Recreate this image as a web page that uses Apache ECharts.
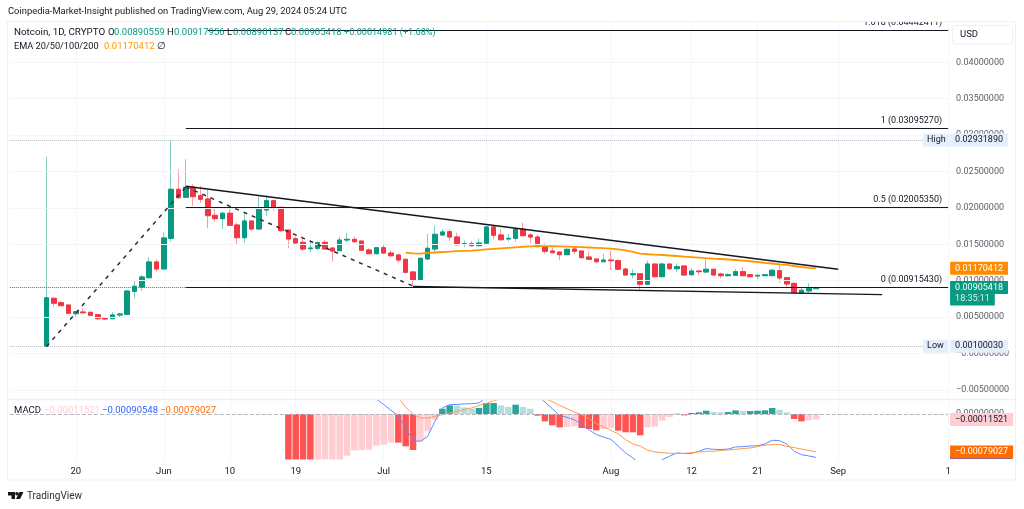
<!DOCTYPE html>
<html>
<head>
<meta charset="utf-8">
<title>Notcoin 1D</title>
<script src="https://cdn.jsdelivr.net/npm/echarts@6/dist/echarts.min.js"></script>
<style>
  html, body { margin: 0; padding: 0; background: #fff; }
  #chart { width: 1024px; height: 509px; }
</style>
</head>
<body>
<div id="chart"></div>
<script>
// candles start on May 16, five empty days before that
const leadDays = 5;
const totalDays = 129;

const priceOpen = [
  0.00100, 0.00758, 0.00698, 0.00666, 0.00547, 0.00570, 0.00566, 0.00533, 0.00488, 0.00478,
  0.00529, 0.00538, 0.00854, 0.00913, 0.01041, 0.01257, 0.01161, 0.01582, 0.02255, 0.02146,
  0.02283, 0.02168, 0.02122, 0.01898, 0.01852, 0.01926, 0.01765, 0.01591, 0.01820, 0.01710,
  0.01971, 0.02099, 0.02008, 0.01696, 0.01577, 0.01527, 0.01440, 0.01445, 0.01527, 0.01449,
  0.01412, 0.01559, 0.01568, 0.01545, 0.01422, 0.01371, 0.01453, 0.01380, 0.01353, 0.01294,
  0.01120, 0.01010, 0.01298, 0.01435, 0.01628, 0.01673, 0.01600, 0.01500, 0.01508, 0.01481,
  0.01514, 0.01738, 0.01628, 0.01573, 0.01582, 0.01706, 0.01628, 0.01600, 0.01467, 0.01408,
  0.01394, 0.01357, 0.01435, 0.01408, 0.01325, 0.01298, 0.01261, 0.01284, 0.01275, 0.01160,
  0.01082, 0.01096, 0.00951, 0.01229, 0.01055, 0.01229, 0.01165, 0.01202, 0.01082, 0.01133,
  0.01120, 0.01157, 0.01092, 0.01069, 0.01074, 0.01124, 0.01082, 0.01065, 0.01069, 0.01069,
  0.01137, 0.01041, 0.00964, 0.00835, 0.00859, 0.00890559
];
const priceClose = [
  0.00766, 0.00690, 0.00657, 0.00552, 0.00574, 0.00560, 0.00525, 0.00478, 0.00474, 0.00529,
  0.00543, 0.00858, 0.00923, 0.01051, 0.01257, 0.01161, 0.01587, 0.02255, 0.02140, 0.02283,
  0.02154, 0.02118, 0.01893, 0.01852, 0.01926, 0.01761, 0.01591, 0.01820, 0.01710, 0.01981,
  0.02099, 0.02008, 0.01687, 0.01573, 0.01518, 0.01435, 0.01449, 0.01522, 0.01435, 0.01408,
  0.01559, 0.01568, 0.01536, 0.01418, 0.01371, 0.01453, 0.01380, 0.01343, 0.01284, 0.01115,
  0.01010, 0.01308, 0.01445, 0.01637, 0.01669, 0.01600, 0.01494, 0.01508, 0.01481, 0.01518,
  0.01738, 0.01624, 0.01563, 0.01582, 0.01710, 0.01618, 0.01600, 0.01467, 0.01404, 0.01385,
  0.01357, 0.01431, 0.01404, 0.01316, 0.01294, 0.01261, 0.01284, 0.01275, 0.01157, 0.01078,
  0.01096, 0.00951, 0.01229, 0.01055, 0.01229, 0.01165, 0.01192, 0.01078, 0.01133, 0.01124,
  0.01157, 0.01078, 0.01069, 0.01082, 0.01124, 0.01069, 0.01055, 0.01074, 0.01082, 0.01143,
  0.01037, 0.00955, 0.00835, 0.00868, 0.00896, 0.00905418
];
const priceLow = [
  0.0010003, 0.00635, 0.00657, 0.00543, 0.00505, 0.00543, 0.00520, 0.00456, 0.00460, 0.00470,
  0.00497, 0.00533, 0.00758, 0.00863, 0.01033, 0.01129, 0.01161, 0.01536, 0.02122, 0.02140,
  0.02026, 0.02071, 0.01720, 0.01810, 0.01710, 0.01761, 0.01490, 0.01522, 0.01687, 0.01700,
  0.01889, 0.01962, 0.01665, 0.01445, 0.01504, 0.01408, 0.01385, 0.01412, 0.01430, 0.01261,
  0.01408, 0.01527, 0.01522, 0.01410, 0.01371, 0.01360, 0.01370, 0.01321, 0.01247, 0.01102,
  0.00927, 0.01000, 0.01290, 0.01376, 0.01614, 0.01541, 0.01490, 0.01459, 0.01467, 0.01470,
  0.01510, 0.01569, 0.01549, 0.01536, 0.01536, 0.01610, 0.01522, 0.01460, 0.01376, 0.01376,
  0.01284, 0.01350, 0.01367, 0.01310, 0.01290, 0.01239, 0.01253, 0.01147, 0.01150, 0.01070,
  0.01033, 0.00872, 0.00950, 0.01050, 0.01045, 0.01147, 0.01115, 0.01070, 0.01075, 0.01078,
  0.01102, 0.01070, 0.01033, 0.01055, 0.01070, 0.01060, 0.01045, 0.01023, 0.01070, 0.01060,
  0.00972, 0.00896, 0.00830, 0.00827, 0.00841, 0.00890137
];
const priceHigh = [
  0.02703, 0.00772, 0.00721, 0.00666, 0.00578, 0.00621, 0.00570, 0.00533, 0.00497, 0.00570,
  0.00556, 0.00872, 0.00996, 0.01078, 0.01326, 0.01294, 0.01665, 0.0293189, 0.02530, 0.02668,
  0.02324, 0.02300, 0.02246, 0.02008, 0.01948, 0.01981, 0.01797, 0.01926, 0.01820, 0.02154,
  0.02177, 0.02110, 0.02008, 0.01700, 0.01604, 0.01604, 0.01559, 0.01545, 0.01559, 0.01455,
  0.01604, 0.01659, 0.01604, 0.01545, 0.01445, 0.01460, 0.01504, 0.01422, 0.01360, 0.01294,
  0.01125, 0.01315, 0.01641, 0.01755, 0.01710, 0.01710, 0.01659, 0.01549, 0.01549, 0.01577,
  0.01750, 0.01765, 0.01706, 0.01641, 0.01720, 0.01797, 0.01651, 0.01628, 0.01514, 0.01453,
  0.01398, 0.01445, 0.01467, 0.01408, 0.01398, 0.01300, 0.01367, 0.01412, 0.01294, 0.01179,
  0.01157, 0.01100, 0.01275, 0.01240, 0.01247, 0.01230, 0.01239, 0.01210, 0.01170, 0.01133,
  0.01294, 0.01160, 0.01110, 0.01102, 0.01160, 0.01184, 0.01092, 0.01074, 0.01090, 0.01157,
  0.01239, 0.01045, 0.00970, 0.00918, 0.00964, 0.00917956
];

// EMA 20 starts on candle 49
const emaStart = 49;
const emaLine = [
  0.01385, 0.01375, 0.01371, 0.01382, 0.01387, 0.01394, 0.01399, 0.01405, 0.01409, 0.01413,
  0.01420, 0.01430, 0.01438, 0.01445, 0.01452, 0.01459, 0.01466, 0.01471, 0.01474, 0.01474,
  0.01473, 0.01471, 0.01468, 0.01464, 0.01460, 0.01456, 0.01452, 0.01446, 0.01441, 0.01431,
  0.01415, 0.01397, 0.01372, 0.01363, 0.01357, 0.01353, 0.01346, 0.01339, 0.01331, 0.01324,
  0.01317, 0.01309, 0.01302, 0.01298, 0.01291, 0.01284, 0.01276, 0.01267, 0.01257, 0.01246,
  0.01236, 0.01225, 0.01216, 0.01202, 0.01188, 0.01177, 0.01170412
];

// MACD histogram starts on candle 33
const histStart = 33;
const macdHist = [
  -0.00105, -0.00110, -0.00115, -0.00120, -0.00115, -0.00105, -0.00100, -0.00097,
  -0.000868, -0.000763, -0.000750, -0.000743, -0.000659, -0.000638, -0.000597, -0.000597,
  -0.000673, -0.000750, -0.000569, -0.000361, -0.000118, 0.000111, 0.000180, 0.000174,
  0.000139, 0.000111, 0.000125, 0.000229, 0.000229, 0.000180, 0.000146, 0.000194,
  0.000146, 0.000111, -0.000035, -0.000153, -0.000236, -0.000278, -0.000271, -0.000257,
  -0.000291, -0.000312, -0.000340, -0.000312, -0.000291, -0.000347, -0.000382, -0.000382,
  -0.000444, -0.000278, -0.000264, -0.000139, -0.000062, 0.000007, -0.000028, 0.000021,
  0.000035, 0.000069, 0.000042, 0.000035, 0.000042, 0.000076, 0.000062, 0.000062,
  0.000069, 0.000076, 0.000125, 0.000090, 0.000035, -0.000104, -0.000153, -0.000132,
  -0.00011521
];

// MACD lines start on candle 43, they leave the pane at the top and bottom
const macdStart = 43;
const macdBlue = [
  0.00060, 0.00045, 0.00031, 0.00020, 0.000076, -0.000035, -0.00029, -0.000555, -0.00057, -0.000465,
  -0.00015, 0.000125, 0.000194, 0.00020, 0.00021, 0.000215, 0.00023, 0.00035, 0.00045, 0.00055,
  0.00062, 0.00068, 0.00060, 0.00048, 0.00037, 0.00025, 0.00011, -0.000028, -0.00007, -0.000118,
  -0.00022, -0.000326, -0.00043, -0.00048, -0.00053, -0.00067, -0.00081, -0.000916, -0.00105, -0.00112,
  -0.00110, -0.00095, -0.00088, -0.00081, -0.000826, -0.00082, -0.000777, -0.00072, -0.000736, -0.00074,
  -0.00073, -0.000687, -0.00068, -0.000666, -0.00066, -0.000625, -0.000548, -0.000555, -0.000625, -0.000777,
  -0.000847, -0.000874, -0.00090548
];
const macdOrange = [
  0.00085, 0.00075, 0.00065, 0.00055, 0.00045, 0.000347, 0.000139, 0, -0.000083, -0.000083,
  -0.000049, -0.000014, 0.00002, 0.000056, 0.000097, 0.000125, 0.00018, 0.00022, 0.000278, 0.00032,
  0.00038, 0.00042, 0.00041, 0.00037, 0.00033, 0.000326, 0.000257, 0.00018, 0.00011, 0.000042,
  -0.000014, -0.000097, -0.00020, -0.00027, -0.00034, -0.000416, -0.00053, -0.000625, -0.00067, -0.000756,
  -0.00079, -0.000805, -0.00082, -0.00082, -0.00082, -0.000805, -0.00079, -0.000777, -0.000777, -0.00076,
  -0.00075, -0.000736, -0.00072, -0.000708, -0.00068, -0.00065, -0.000638, -0.000638, -0.000673, -0.00070,
  -0.00073, -0.00076, -0.00079027
];

const priceTicks = [-0.005, 0, 0.005, 0.01, 0.015, 0.02, 0.025, 0.03, 0.035, 0.04];
const highValue = 0.0293189;
const lowValue = 0.0010003;
const lastClose = 0.00905418;
const lastEma = 0.01170412;
const countdownLevel = 0.0075;
const fibLevels = [
  { name: '1.618', value: 0.04442411, from: 22 },
  { name: '1', value: 0.0309527, from: 19 },
  { name: '0.5', value: 0.0200535, from: 19 },
  { name: '0', value: 0.0091543, from: 19 }
];
const upperTrend = [[19, 0.02297], [108, 0.01157]];
const lowerTrend = [[50, 0.0092], [114, 0.0081]];
const zigzag = [[0, 0.00095], [19, 0.02287], [50, 0.00927]];
const tickLabels = {
  '05-20': '20', '06-01': 'Jun', '06-10': '10', '06-19': '19', '07-01': 'Jul',
  '07-15': '15', '08-01': 'Aug', '08-12': '12', '08-21': '21', '09-01': 'Sep', '09-16': '1'
};

const days = [];
for (let i = 0; i < totalDays; i++) {
  const d = new Date(Date.UTC(2024, 4, 11 + i));
  days.push(String(d.getUTCMonth() + 1).padStart(2, '0') + '-' + String(d.getUTCDate()).padStart(2, '0'));
}
const dayOf = i => days[i + leadDays];
function pad(arr, start) {
  const out = new Array(leadDays + start).fill(null).concat(arr);
  while (out.length < totalDays) out.push(null);
  return out;
}

const UP = '#089981', DOWN = '#f23645';
const FONT = 'Roboto';
const NO_LINE = { color: 'rgba(0,0,0,0)', width: 0 };

const wickData = pad(priceOpen.map((o, i) => [o, priceClose[i], priceLow[i], priceHigh[i]]), 0).map(v => v || '-');
const bodyData = pad(priceOpen.map((o, i) => {
  const c = priceClose[i];
  return [o, c, Math.min(o, c), Math.max(o, c)];
}), 0).map(v => v || '-');

const histData = pad(macdHist, histStart).map((v, i, all) => {
  if (v === null) return '-';
  const prev = all[i - 1];
  let color;
  if (v >= 0) color = prev === null || v >= prev ? '#26a69a' : '#b2dfdb';
  else color = prev === null || v <= prev ? '#ff5252' : '#ffcdd2';
  return { value: v, itemStyle: { color } };
});

function segment(points, style) {
  const out = [];
  for (let i = 0; i < points.length - 1; i++) {
    out.push([
      { coord: [dayOf(points[i][0]), points[i][1]], lineStyle: style, label: { show: false } },
      { coord: [dayOf(points[i + 1][0]), points[i + 1][1]] }
    ]);
  }
  return out;
}

// full width level line, as a pair so it stays on the value
function level(value, line, label) {
  return [
    { coord: [days[0], value], lineStyle: line, label: label || { show: false } },
    { coord: [days[totalDays - 1], value] }
  ];
}
// a tag sitting on the axis, right of the plot
function tag(value, text, bg, color, line) {
  return level(value, line || NO_LINE, {
    show: true, position: 'end', distance: 2, formatter: text, color, backgroundColor: bg,
    fontFamily: FONT, fontSize: 9, lineHeight: 9, padding: [2, 5]
  });
}
function chip(value, text) {
  return level(value, NO_LINE, {
    show: true, position: 'end', distance: -25, formatter: text, color: '#131722',
    backgroundColor: '#e3effd', fontFamily: FONT, fontSize: 9, lineHeight: 9, padding: [2, 4]
  });
}

const fibStyle = { color: '#131722', width: 1.2, type: 'solid' };
const fibLines = fibLevels.map(f => [
  {
    coord: [dayOf(f.from), f.value],
    lineStyle: fibStyle,
    label: {
      show: true, position: 'insideEndTop', distance: [6, 3],
      formatter: f.name + ' (' + f.value.toFixed(8) + ')',
      color: '#131722', fontFamily: FONT, fontSize: 9
    }
  },
  { coord: [days[totalDays - 1], f.value] }
]);

const dottedGray = { color: '#b8bbc3', width: 1, type: 'dotted' };
const priceMarks = [
  chip(highValue, 'High'),
  tag(highValue, '0.02931890', '#e3effd', '#131722', dottedGray),
  chip(lowValue, 'Low'),
  tag(lowValue, '0.00100030', '#e3effd', '#131722', dottedGray),
  tag(lastEma, '0.01170412', '#ff8c00', '#fff'),
  tag(countdownLevel, '18:35:11', UP, 'rgba(255,255,255,0.85)'),
  tag(lastClose, '0.00905418', UP, '#fff', { color: UP, width: 1, type: 'dotted' })
].concat(fibLines)
 .concat(segment(upperTrend, { color: '#131722', width: 1.5, type: 'solid' }))
 .concat(segment(lowerTrend, { color: '#131722', width: 1.3, type: 'solid' }))
 .concat(segment(zigzag, { color: '#2a2e39', width: 1.5, type: [4, 5] }));

// the blue tag only peeks out under the orange one
const blueTag = tag(-0.00090548, ' ', '#2962ff', '#2962ff');
blueTag[0].label.fontSize = 1;
blueTag[0].label.lineHeight = 1;
blueTag[0].label.padding = [1, 31];

const isTick = (i, v) => tickLabels[v] !== undefined;
const gridLine = { color: '#f4f5f8', width: 1 };

function txt(x, y, s, color, size, weight) {
  return {
    type: 'text', x, y, z: 50, silent: true,
    style: { text: s, fill: color || '#131722', font: (weight || 'normal') + ' ' + (size || 9.5) + 'px ' + FONT, verticalAlign: 'middle' }
  };
}

const graphic = [
  // covers whatever sticks out over the top of the frame
  { type: 'rect', z: 40, silent: true, shape: { x: 0, y: 0, width: 1024, height: 21 }, style: { fill: '#fff' } },
  { type: 'rect', z: 41, silent: true, shape: { x: 7.5, y: 21.5, width: 1008, height: 458.5 }, style: { fill: 'none', stroke: '#eef0f5', lineWidth: 1 } },
  { type: 'line', z: 41, silent: true, shape: { x1: 7.5, y1: 399.5, x2: 1015.5, y2: 399.5 }, style: { stroke: '#eef0f5', lineWidth: 1.5 } },
  { type: 'rect', z: 42, silent: true, shape: { x: 952.5, y: 25.5, width: 60, height: 18.5, r: 3 }, style: { fill: '#fff', stroke: '#eef0f5', lineWidth: 1 } },
  txt(960, 35, 'USD', '#131722', 9.5),
  txt(8, 12, 'Coinpedia-Market-Insight published on TradingView.com, Aug 29, 2024 05:24 UTC', '#131722', 9.4),
  txt(14, 33, 'Notcoin, 1D, CRYPTO', '#131722', 9.8),
  txt(108, 33, 'O', '#131722', 9.5), txt(114, 33, '0.00890559', UP, 9.5),
  txt(167, 33, 'H', '#131722', 9.5), txt(174, 33, '0.00917956', UP, 9.5),
  txt(227, 33, 'L', '#131722', 9.5), txt(233, 33, '0.00890137', UP, 9.5),
  txt(285, 33, 'C', '#131722', 9.5), txt(291, 33, '0.00905418', UP, 9.5),
  txt(344, 33, '+0.00014981 (+1.68%)', UP, 9.1),
  txt(14, 47, 'EMA 20/50/100/200', '#131722', 9.2),
  txt(104, 47, '0.01170412', '#ff9800', 9.5),
  txt(157, 47, '∅', '#131722', 9.5),
  txt(14, 411, 'MACD', '#131722', 9.5),
  txt(44, 411, '−0.00011521', '#ffcdd2', 9.5),
  txt(102, 411, '−0.00090548', '#2962ff', 9.5),
  txt(160, 411, '−0.00079027', '#ff6d00', 9.5),
  // TradingView logo
  { type: 'polygon', z: 50, silent: true, shape: { points: [[8, 492], [15, 492], [15, 499], [11.5, 499], [11.5, 495.5], [8, 495.5]] }, style: { fill: '#131722' } },
  { type: 'circle', z: 50, silent: true, shape: { cx: 17, cy: 493.7, r: 1.8 }, style: { fill: '#131722' } },
  { type: 'polygon', z: 50, silent: true, shape: { points: [[19.5, 492], [23.5, 492], [20, 499], [16, 499]] }, style: { fill: '#131722' } },
  txt(27, 496, 'TradingView', '#2a2e39', 10)
];

const option = {
  animation: false,
  backgroundColor: '#fff',
  graphic,
  grid: [
    { left: 9.85, width: 938.25, top: 21, height: 378 },
    { left: 9.85, width: 938.25, top: 400, height: 59.5 }
  ],
  xAxis: [0, 1].map(g => ({
    type: 'category',
    gridIndex: g,
    data: days,
    boundaryGap: false,
    axisLine: { show: false },
    axisTick: { show: false },
    splitLine: { show: true, interval: isTick, lineStyle: gridLine },
    axisLabel: g === 0 ? { show: false } : {
      show: true, interval: isTick, margin: 7, color: '#131722', fontFamily: FONT, fontSize: 9.5,
      hideOverlap: false, showMinLabel: true, showMaxLabel: true,
      formatter: v => tickLabels[v] || ''
    }
  })),
  yAxis: [
    {
      type: 'value',
      position: 'right',
      gridIndex: 0,
      min: -0.00625,
      max: 0.04567,
      axisLine: { show: false },
      axisTick: { show: false },
      splitLine: { show: false },
      axisLabel: {
        margin: 8, color: '#5d606b', fontFamily: FONT, fontSize: 9,
        customValues: priceTicks,
        formatter: v => v === 0 ? '−0.00000000' : v.toFixed(8).replace('-', '−')
      }
    },
    {
      type: 'value',
      position: 'right',
      gridIndex: 1,
      min: -0.000948,
      max: 0.000292,
      axisLine: { show: false },
      axisTick: { show: false },
      splitLine: { show: false },
      axisLabel: {
        margin: 8, color: '#5d606b', fontFamily: FONT, fontSize: 9,
        customValues: [0],
        formatter: v => v.toFixed(8)
      }
    }
  ],
  series: [
    {
      name: 'Grid levels',
      type: 'line',
      data: pad([], 0),
      z: 1,
      silent: true,
      markLine: {
        silent: true, symbol: ['none', 'none'], animation: false,
        data: priceTicks.map(v => level(v, { color: gridLine.color, width: 1, type: 'solid' }))
      }
    },
    {
      name: 'wicks',
      type: 'candlestick',
      data: wickData,
      barWidth: 5,
      itemStyle: {
        color: 'rgba(0,0,0,0)', color0: 'rgba(0,0,0,0)',
        borderColor: 'rgba(8,153,129,0.5)', borderColor0: 'rgba(242,54,69,0.5)', borderWidth: 1
      },
      silent: true
    },
    {
      name: 'bodies',
      type: 'candlestick',
      data: bodyData,
      barWidth: 5,
      itemStyle: { color: UP, color0: DOWN, borderColor: UP, borderColor0: DOWN, borderWidth: 1 },
      silent: true,
      markLine: { silent: true, symbol: ['none', 'none'], data: priceMarks, animation: false }
    },
    {
      name: 'EMA 20',
      type: 'line',
      data: pad(emaLine, emaStart),
      showSymbol: false,
      lineStyle: { color: '#ff9800', width: 1.8 },
      z: 3,
      silent: true
    },
    {
      name: 'Histogram',
      type: 'bar',
      xAxisIndex: 1,
      yAxisIndex: 1,
      data: histData,
      barWidth: 6.5,
      silent: true,
      markLine: {
        silent: true,
        symbol: ['none', 'none'],
        animation: false,
        data: [
          level(0, { color: '#b2b5be', width: 1, type: 'dashed' }),
          blueTag,
          tag(-0.00011521, '−0.00011521', '#ffcdd2', '#131722'),
          tag(-0.00079027, '−0.00079027', '#ff6d00', '#fff')
        ]
      }
    },
    {
      name: 'MACD',
      type: 'line',
      xAxisIndex: 1,
      yAxisIndex: 1,
      data: pad(macdBlue, macdStart),
      showSymbol: false,
      lineStyle: { color: '#5f8cff', width: 1 },
      z: 3,
      silent: true
    },
    {
      name: 'Signal',
      type: 'line',
      xAxisIndex: 1,
      yAxisIndex: 1,
      data: pad(macdOrange, macdStart),
      showSymbol: false,
      lineStyle: { color: '#ff9a4d', width: 1 },
      z: 3,
      silent: true
    }
  ]
};

const chart = echarts.init(document.getElementById('chart'));
chart.setOption(option);
</script>
</body>
</html>
